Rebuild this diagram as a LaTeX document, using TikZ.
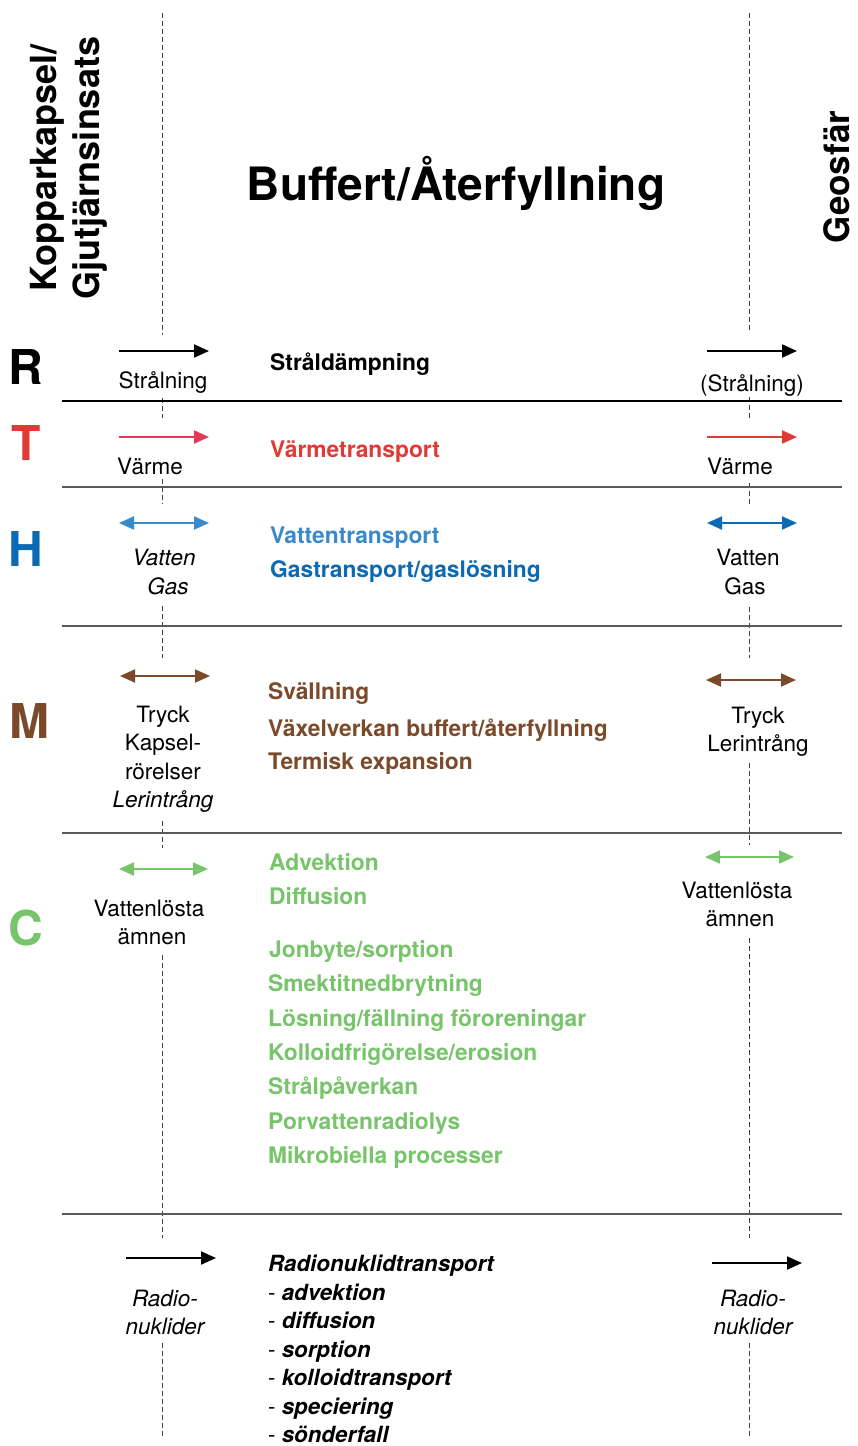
\documentclass[tikz,border=0pt]{standalone}
\usepackage{fontspec}
\setmainfont{TeX Gyre Heros}
\usetikzlibrary{arrows.meta}

\definecolor{heatred}{HTML}{E03A36}
\definecolor{heatpink}{HTML}{E4385A}
\definecolor{waterlight}{HTML}{3A89CA}
\definecolor{waterdark}{HTML}{0B6AB3}
\definecolor{mechbrown}{HTML}{7A4A2B}
\definecolor{chemgreen}{HTML}{77C46B}
\definecolor{rulegray}{HTML}{5A5A5A}

\tikzset{
  lbl/.style={font=\fontsize{22.5}{27}\selectfont, anchor=base, inner sep=0pt},
  ilbl/.style={font=\fontsize{22.5}{27}\selectfont\itshape, anchor=base, inner sep=0pt},
  proc/.style={font=\fontsize{22.8}{26}\selectfont\bfseries, anchor=base west, inner sep=0pt},
  letter/.style={font=\fontsize{48}{50}\selectfont\bfseries, anchor=base, inner sep=0pt},
  flow/.style={line width=2pt, -{Triangle[length=15pt,width=13pt]}},
  flowboth/.style={line width=2pt, {Triangle[length=15pt,width=13pt]}-{Triangle[length=15pt,width=13pt]}},
  rule/.style={line width=1.2pt},
  guide/.style={dash pattern=on 5pt off 3pt, line width=1pt, black!75}
}

\begin{document}
\begin{tikzpicture}[x=1pt,y=-1pt]
\useasboundingbox (0,0) rectangle (857,1446);

% boundary guides between capsule, buffer and geosphere
\foreach \a/\b in {13/335, 398/418, 479/504, 606/658, 821/848, 955/1238, 1343/1436}
  \draw[guide] (162,\a) -- (162,\b);
\foreach \a/\b in {13/332, 397/418, 483/504, 607/658, 763/845, 938/1238, 1343/1436}
  \draw[guide] (749,\a) -- (749,\b);

% headings
\node[rotate=90, align=center, inner sep=0pt, font=\fontsize{36}{43}\selectfont\bfseries]
  (capsule) at (69,168) {Kopparkapsel/\\Gjutjärnsinsats};
\node[inner sep=0pt, font=\fontsize{46}{50}\selectfont\bfseries] (buffer) at (456,183) {Buffert/Återfyllning};
\node[rotate=90, inner sep=0pt, font=\fontsize{35}{43}\selectfont\bfseries] (geo) at (837,177) {Geosfär};

% row separators
\draw[rule] (62,401) -- (842,401);
\draw[rule, rulegray] (62,487) -- (842,487);
\draw[rule, rulegray] (62,626) -- (842,626);
\draw[rule, rulegray] (62,833) -- (842,833);
\draw[rule, rulegray] (62,1214) -- (842,1214);

% row letters
\node[letter] (R) at (26,384) {R};
\node[letter, heatred] (T) at (26,460) {T};
\node[letter, waterdark] (H) at (26,566) {H};
\node[letter, mechbrown] (M) at (29,738) {M};
\node[letter, chemgreen] (C) at (26,945) {C};

% ---- R: radiation
\coordinate (rL1) at (119,351); \coordinate (rL2) at (209,351);
\coordinate (rR1) at (707,351); \coordinate (rR2) at (797,351);
\draw[flow] (rL1) -- (rL2);
\draw[flow] (rR1) -- (rR2);
\node[lbl] (rLt) at (163,388) {Strålning};
\node[lbl] (rRt) at (752,391) {(Strålning)};
\node[proc] (rP) at (270,370) {Stråldämpning};

% ---- T: thermal
\coordinate (tL1) at (119,437); \coordinate (tL2) at (209,437);
\coordinate (tR1) at (707,437); \coordinate (tR2) at (797,437);
\draw[flow, heatpink] (tL1) -- (tL2);
\draw[flow, heatred] (tR1) -- (tR2);
\node[lbl] (tLt) at (150,474) {Värme};
\node[lbl] (tRt) at (740,474) {Värme};
\node[proc, heatred] (tP) at (270,457) {Värmetransport};

% ---- H: hydraulic
\coordinate (hL1) at (119,523); \coordinate (hL2) at (209,523);
\coordinate (hR1) at (707,523); \coordinate (hR2) at (797,523);
\draw[flowboth, waterlight] (hL1) -- (hL2);
\draw[flowboth, waterdark] (hR1) -- (hR2);
\node[ilbl] (hLt1) at (164,565) {Vatten};
\node[ilbl] (hLt2) at (168,594) {Gas};
\node[lbl] (hRt1) at (748,565) {Vatten};
\node[lbl] (hRt2) at (745,594) {Gas};
\node[proc, waterlight] (hP1) at (270,543) {Vattentransport};
\node[proc, waterdark] (hP2) at (270,577) {Gastransport/gaslösning};

% ---- M: mechanical
\coordinate (mL1) at (120,676); \coordinate (mL2) at (210,676);
\coordinate (mR1) at (706,680); \coordinate (mR2) at (796,680);
\draw[flowboth, mechbrown] (mL1) -- (mL2);
\draw[flowboth, mechbrown] (mR1) -- (mR2);
\node[lbl] (mLt1) at (163,722) {Tryck};
\node[lbl] (mLt2) at (163,750) {Kapsel-};
\node[lbl] (mLt3) at (163,779) {rörelser};
\node[ilbl] (mLt4) at (163,807) {Lerintrång};
\node[lbl] (mRt1) at (758,723) {Tryck};
\node[lbl] (mRt2) at (758,751) {Lerintrång};
\node[proc, mechbrown] (mP1) at (268,699) {Svällning};
\node[proc, mechbrown] (mP2) at (268,736) {Växelverkan buffert/återfyllning};
\node[proc, mechbrown] (mP3) at (268,769) {Termisk expansion};

% ---- C: chemical
\coordinate (cL1) at (119,869); \coordinate (cL2) at (208,869);
\coordinate (cR1) at (705,857); \coordinate (cR2) at (794,857);
\draw[flowboth, chemgreen] (cL1) -- (cL2);
\draw[flowboth, chemgreen] (cR1) -- (cR2);
\node[lbl] (cLt1) at (149,916) {Vattenlösta};
\node[lbl] (cLt2) at (152,944) {ämnen};
\node[lbl] (cRt1) at (737,898) {Vattenlösta};
\node[lbl] (cRt2) at (740,926) {ämnen};
\begin{scope}[every node/.style={proc, chemgreen}]
  \node (cP1) at (269,870) {Advektion};
  \node (cP2) at (269,904) {Diffusion};
  \node (cP3) at (269,957) {Jonbyte/sorption};
  \node (cP4) at (268,991) {Smektitnedbrytning};
  \node (cP5) at (268,1026) {Lösning/fällning föroreningar};
  \node (cP6) at (268,1060) {Kolloidfrigörelse/erosion};
  \node (cP7) at (268,1094) {Strålpåverkan};
  \node (cP8) at (268,1129) {Porvattenradiolys};
  \node (cP9) at (268,1163) {Mikrobiella processer};
\end{scope}

% ---- radionuclides
\coordinate (nL1) at (126,1258); \coordinate (nL2) at (216,1258);
\coordinate (nR1) at (712,1263); \coordinate (nR2) at (802,1263);
\draw[flow] (nL1) -- (nL2);
\draw[flow] (nR1) -- (nR2);
\node[ilbl] (nLt1) at (165,1306) {Radio-};
\node[ilbl] (nLt2) at (165,1334) {nuklider};
\node[ilbl] (nRt1) at (753,1306) {Radio-};
\node[ilbl] (nRt2) at (753,1334) {nuklider};
\node[anchor=base west, inner sep=0pt, font=\fontsize{22.3}{26}\selectfont\bfseries\itshape] (nP0) at (268,1271) {Radionuklidtransport};
\begin{scope}[every node/.style={anchor=base west, inner sep=0pt, font=\fontsize{22.3}{26}\selectfont}]
  \node (nP1) at (268,1300) {- \textbf{\textit{advektion}}};
  \node (nP2) at (268,1328) {- \textbf{\textit{diffusion}}};
  \node (nP3) at (268,1357) {- \textbf{\textit{sorption}}};
  \node (nP4) at (268,1385) {- \textbf{\textit{kolloidtransport}}};
  \node (nP5) at (268,1414) {- \textbf{\textit{speciering}}};
  \node (nP6) at (268,1442) {- \textbf{\textit{sönderfall}}};
\end{scope}
\end{tikzpicture}
\end{document}
